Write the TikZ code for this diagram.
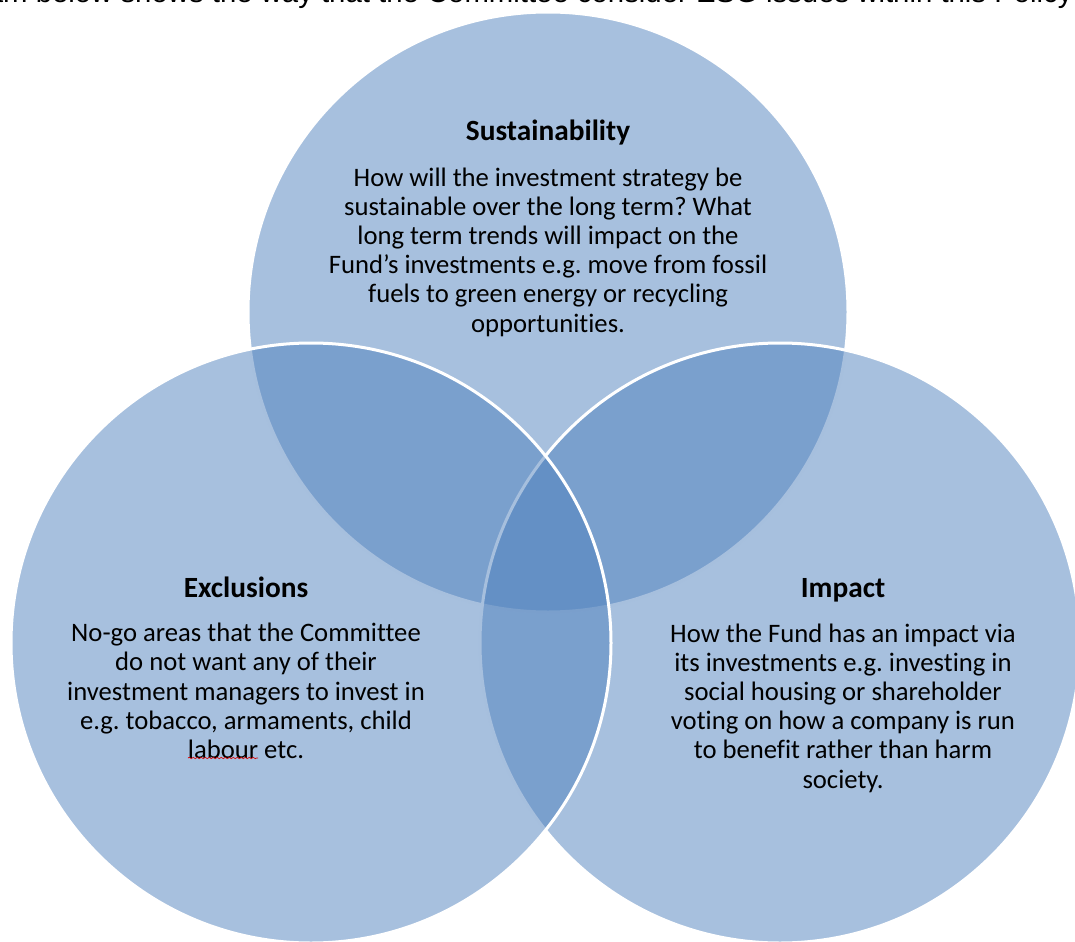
\documentclass[tikz,border=0pt]{standalone}
\usepackage{fontspec}
\setmainfont{Carlito}[Ligatures=NoCommon]
\newfontfamily\captionfont{Liberation Sans}
\usepackage{tikz}
\usetikzlibrary{decorations.pathmorphing}
\definecolor{vennblue}{HTML}{4F81BD}
\frenchspacing

\begin{document}
\begin{tikzpicture}[x=0.75pt,y=0.75pt,yscale=-1,xscale=1,
  venn/.style={fill=vennblue, fill opacity=0.5, draw=white, line width=2.25pt},
  heading/.style={font=\fontsize{22}{26}\selectfont\bfseries, inner sep=0pt},
  bodytext/.style={font=\fontsize{20}{21.9}\selectfont, align=center, inner sep=0pt}]
\useasboundingbox (0,0) rectangle (1075,942);
\clip (0,0) rectangle (1075,942);

% Caption line (cut by the page edge)
\node (caption) [anchor=base east, inner sep=0pt, font=\captionfont\fontsize{22}{26}\selectfont]
  at (1073,3) {The diagram below shows the way that the Committee consider ESG issues within this Policy};

% Circles
\draw [venn] (548,312) circle [x radius=300, y radius=300];
\draw [venn] (780,643) circle [x radius=300, y radius=300];
\draw [venn] (311,643) circle [x radius=300, y radius=300];

% Text Node
\node (sustTitle) [heading] at (548,133) {Sustainability};
\node (sustBody) [bodytext] at (548,252) {How will the investment strategy be\\
  sustainable over the long term? What\\
  long term trends will impact on the\\
  Fund’s investments e.g. move from fossil\\
  fuels to green energy or recycling\\
  opportunities.};
% Text Node
\node (exclTitle) [heading] at (246,587) {Exclusions};
\node (exclBody) [bodytext] at (246,691) {No-go areas that the Committee\\
  do not want any of their\\
  investment managers to invest in\\
  e.g. tobacco, armaments, child\\
  labour etc.};
% Text Node
\node (impTitle) [heading] at (843,590) {Impact};
\node (impBody) [bodytext] at (843,708) {How the Fund has an impact via\\
  its investments e.g. investing in\\
  social housing or shareholder\\
  voting on how a company is run\\
  to benefit rather than harm\\
  society.};

% spelling mark
\draw [red!85!black, line width=0.5pt, decorate, decoration={snake, amplitude=0.5pt, segment length=3pt}] (188,758) -- (258,758);

\end{tikzpicture}
\end{document}
